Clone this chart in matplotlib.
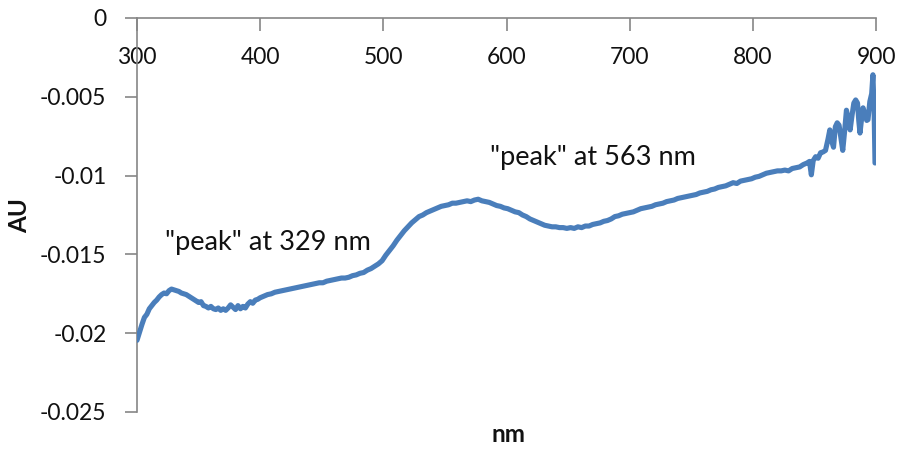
import numpy as np
import matplotlib
matplotlib.use('Agg')
import matplotlib.pyplot as plt
from matplotlib.ticker import FuncFormatter

plt.rcParams['font.family'] = ['Lato', 'DejaVu Sans']
plt.rcParams['axes.unicode_minus'] = False

# absorbance spectrum (wavelength in nm, absorbance in mAU)
wavelength = [
    300, 302, 304, 306, 308, 310, 312, 314, 316, 318, 320, 322, 324, 326, 328,
    330, 332, 334, 336, 338, 340, 342, 344, 346, 348, 350, 352, 354, 356, 358,
    360, 362, 364, 366, 368, 370, 372, 374, 376, 378, 380, 382, 384, 386, 388,
    390, 392, 394, 396, 398, 400, 403, 406, 409, 412, 415, 418, 421, 424, 427,
    430, 433, 436, 439, 442, 445, 448, 451, 454, 457, 460, 463, 466, 469, 472,
    475, 478, 481, 484, 487, 490, 493, 496, 499, 502, 505, 508, 511, 514, 517,
    520, 523, 526, 529, 532, 535, 538, 541, 544, 547, 550, 553, 556, 559, 562,
    565, 568, 571, 574, 577, 580, 583, 586, 589, 592, 595, 598, 601, 604, 607,
    610, 613, 616, 619, 622, 625, 628, 631, 634, 637, 640, 643, 646, 649, 652,
    655, 658, 661, 664, 667, 670, 673, 676, 679, 682, 685, 688, 691, 694, 697,
    700, 703, 706, 709, 712, 715, 718, 721, 724, 727, 730, 733, 736, 739, 742,
    745, 748, 751, 754, 757, 760, 763, 766, 769, 772, 775, 778, 781, 784, 787,
    790, 793, 796, 799, 802, 805, 808, 811, 814, 817, 820, 823, 826, 829, 832,
    835, 838, 841, 844, 846, 847.5, 849, 851, 853, 855, 857, 859, 861, 862.5,
    864, 865.5, 867, 868.5, 870, 871.5, 873, 874.5, 876, 877.5, 879, 880.5,
    882, 883.5, 885, 886, 887, 888, 889.5, 891, 892.5, 893.5, 895, 896.5,
    897.5, 898.5, 899.2,
]
absorbance_mau = [
    -20.45, -19.95, -19.45, -19.00, -18.80, -18.45, -18.25, -18.05, -17.90, -17.70,
    -17.55, -17.45, -17.50, -17.30, -17.20, -17.25, -17.30, -17.35, -17.45, -17.50,
    -17.55, -17.65, -17.75, -17.85, -17.95, -18.05, -18.00, -18.25, -18.30, -18.40,
    -18.30, -18.45, -18.50, -18.40, -18.55, -18.45, -18.55, -18.40, -18.20, -18.35,
    -18.50, -18.25, -18.45, -18.30, -18.40, -18.15, -18.00, -18.10, -17.90, -17.85,
    -17.75, -17.65, -17.55, -17.50, -17.40, -17.35, -17.30, -17.25, -17.20, -17.15,
    -17.10, -17.05, -17.00, -16.95, -16.90, -16.85, -16.80, -16.80, -16.70, -16.65,
    -16.60, -16.55, -16.50, -16.50, -16.45, -16.35, -16.30, -16.20, -16.15, -16.00,
    -15.90, -15.75, -15.60, -15.40, -15.05, -14.75, -14.45, -14.10, -13.80, -13.50,
    -13.25, -13.00, -12.80, -12.60, -12.50, -12.35, -12.25, -12.15, -12.05, -11.95,
    -11.90, -11.85, -11.75, -11.75, -11.70, -11.65, -11.60, -11.65, -11.55, -11.50,
    -11.60, -11.65, -11.70, -11.80, -11.90, -11.95, -12.05, -12.10, -12.20, -12.30,
    -12.35, -12.50, -12.60, -12.75, -12.85, -12.95, -13.05, -13.15, -13.20, -13.25,
    -13.25, -13.30, -13.30, -13.35, -13.30, -13.35, -13.25, -13.30, -13.20, -13.20,
    -13.10, -13.05, -13.00, -12.90, -12.85, -12.75, -12.60, -12.55, -12.45, -12.40,
    -12.35, -12.30, -12.20, -12.10, -12.05, -12.00, -11.95, -11.85, -11.80, -11.75,
    -11.65, -11.60, -11.55, -11.45, -11.40, -11.35, -11.30, -11.25, -11.20, -11.10,
    -11.05, -11.00, -10.90, -10.85, -10.75, -10.70, -10.65, -10.55, -10.45, -10.50,
    -10.35, -10.30, -10.25, -10.20, -10.10, -10.05, -9.95, -9.85, -9.80, -9.75,
    -9.70, -9.70, -9.65, -9.70, -9.55, -9.50, -9.45, -9.30, -9.20, -9.10,
    -9.95, -9.05, -8.80, -8.90, -8.55, -8.50, -8.40, -7.70, -7.10,
    -7.80, -8.20, -6.90, -6.65, -6.80, -7.60, -8.40, -7.20, -5.85, -6.40,
    -7.10, -6.20, -5.40, -5.20, -5.40, -6.50, -7.30, -6.60, -5.70, -6.10,
    -6.50, -6.45, -5.30, -4.80, -3.60, -6.00, -9.20,
]

x_ticks = [300, 400, 500, 600, 700, 800, 900]
y_ticks = [0, -0.005, -0.01, -0.015, -0.02, -0.025]

peak_labels = ['"peak" at 329 nm', '"peak" at 563 nm']
peak_label_pos = [(322.5, -0.01425), (586.5, -0.00885)]

au = np.array(absorbance_mau) / 1000.0

fig = plt.figure(figsize=(9.05, 4.51), dpi=100)
ax = fig.add_axes([137 / 905, 1 - 412 / 451, (876 - 137) / 905, (412 - 18) / 451])

ax.plot(wavelength, au, color='#4a7ebb', lw=3.7, solid_joinstyle='round',
        solid_capstyle='round', zorder=3)

ax.set_xlim(300, 900)
ax.set_ylim(-0.025, 0)

# x axis sits on the zero line at the top, labels hang beneath it
ax.spines['bottom'].set_position(('data', 0))
ax.spines['top'].set_visible(False)
ax.spines['right'].set_visible(False)
for s in ('left', 'bottom'):
    ax.spines[s].set_color('#868686')
    ax.spines[s].set_linewidth(1.2)

ax.set_xticks(x_ticks)
ax.set_yticks(y_ticks)
ax.yaxis.set_major_formatter(FuncFormatter(lambda v, p: '{:g}'.format(v)))
ax.tick_params(axis='both', direction='out', length=9, width=1.2, color='#868686',
               labelsize=16.5, labelcolor='#111111')
ax.tick_params(axis='x', pad=12)
ax.tick_params(axis='y', pad=13)

for txt, (px, py) in zip(peak_labels, peak_label_pos):
    ax.text(px, py, txt, ha='left', va='center', fontsize=19.5, color='#111111')

fig.text(20 / 905, 1 - 216 / 451, 'AU', rotation=90, ha='center', va='center',
         fontsize=17.5, fontweight='bold', color='#111111')
fig.text(508 / 905, 1 - 434 / 451, 'nm', ha='center', va='center',
         fontsize=17.5, fontweight='bold', color='#111111')

fig.savefig('out.png', dpi=100)
